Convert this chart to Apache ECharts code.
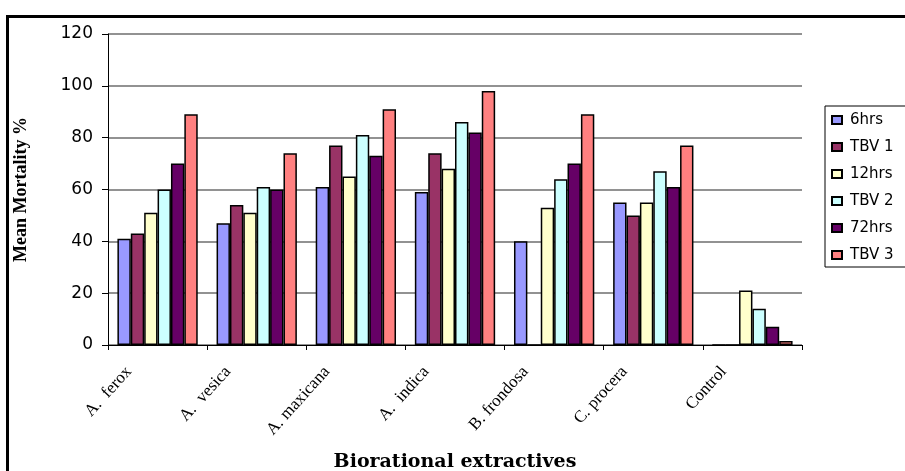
<!DOCTYPE html>
<html>
<head>
<meta charset="utf-8">
<title>Mean Mortality %</title>
<script src="https://cdn.jsdelivr.net/npm/echarts@6/dist/echarts.min.js"></script>
<style>
  html, body { margin: 0; padding: 0; background: #fff; }
  #chart { width: 905px; height: 471px; }
</style>
</head>
<body>
<div id="chart"></div>
<script>
// Extracts tested
const categories = ['A.  ferox', 'A.  vesica', 'A. maxicana', 'A.  indica', 'B. frondosa', 'C. procera', 'Control'];

// Mean mortality (%) per exposure time
const hrs6  = [41, 47, 61, 59, 40, 55, 0];
const tbv1  = [43, 54, 77, 74, 0, 50, 0];
const hrs12 = [51, 51, 65, 68, 53, 55, 21];
const tbv2  = [60, 61, 81, 86, 64, 67, 14];
const hrs72 = [70, 60, 73, 82, 70, 61, 7];
const tbv3  = [89, 74, 91, 98, 89, 77, 1.5];

const yTicks = { min: 0, max: 120, interval: 20 };

const seriesDefs = [
  { name: '6hrs',  data: hrs6,  color: '#9999FF' },
  { name: 'TBV 1', data: tbv1,  color: '#993366' },
  { name: '12hrs', data: hrs12, color: '#FFFFCC' },
  { name: 'TBV 2', data: tbv2,  color: '#CCFFFF' },
  { name: '72hrs', data: hrs72, color: '#660066' },
  { name: 'TBV 3', data: tbv3,  color: '#FF8080' }
];

const chart = echarts.init(document.getElementById('chart'), null, { renderer: 'canvas' });

chart.setOption({
  animation: false,
  backgroundColor: '#fff',
  grid: { left: 108, right: 103, top: 34, bottom: 126, containLabel: false, outerBoundsMode: 'none' },
  graphic: [{
    type: 'rect',
    left: 5, top: 14,
    shape: { width: 920, height: 480 },
    style: { fill: 'none', stroke: '#000', lineWidth: 3 },
    silent: true
  }],
  legend: {
    orient: 'vertical',
    left: 825, top: 106,
    backgroundColor: '#fff',
    borderColor: '#000', borderWidth: 1,
    padding: [6, 40, 4, 6],
    itemGap: 11,
    itemWidth: 10, itemHeight: 8,
    icon: 'rect',
    textStyle: { fontFamily: 'DejaVu Sans, Arial', fontSize: 15, color: '#000', lineHeight: 16, padding: [0, 0, 0, 3] },
    data: seriesDefs.map(s => s.name)
  },
  xAxis: {
    type: 'category',
    data: categories,
    name: 'Biorational extractives',
    nameLocation: 'middle',
    nameGap: 108,
    nameTextStyle: { fontFamily: 'DejaVu Serif, Times New Roman', fontWeight: 'bold', fontSize: 19, color: '#000' },
    axisLine: { lineStyle: { color: '#000', width: 1 } },
    axisTick: { show: true, length: 5, lineStyle: { color: '#000' } },
    axisLabel: {
      rotate: 48,
      margin: -8,
      padding: [0, 43, 0, 0],
      fontFamily: 'Liberation Serif, Times New Roman',
      fontSize: 17,
      color: '#000'
    }
  },
  yAxis: {
    type: 'value',
    min: yTicks.min, max: yTicks.max, interval: yTicks.interval,
    name: 'Mean Mortality %',
    nameLocation: 'middle',
    nameGap: 78,
    nameRotate: 90,
    nameTextStyle: { fontFamily: 'Liberation Serif, Times New Roman', fontWeight: 'bold', fontSize: 18, color: '#000' },
    axisLine: { show: true, lineStyle: { color: '#000', width: 1 } },
    axisTick: { show: true, length: 6, lineStyle: { color: '#000' } },
    axisLabel: { margin: 15, fontFamily: 'DejaVu Sans, Arial', fontSize: 17, color: '#000' },
    splitLine: { show: true, lineStyle: { color: '#6e6e6e', width: 1.5 } }
  },
  series: seriesDefs.map(s => ({
    type: 'bar',
    name: s.name,
    data: s.data,
    barGap: '0%',
    barCategoryGap: '19%',
    itemStyle: { color: s.color, borderColor: '#000', borderWidth: 1.5 }
  }))
});
</script>
</body>
</html>
